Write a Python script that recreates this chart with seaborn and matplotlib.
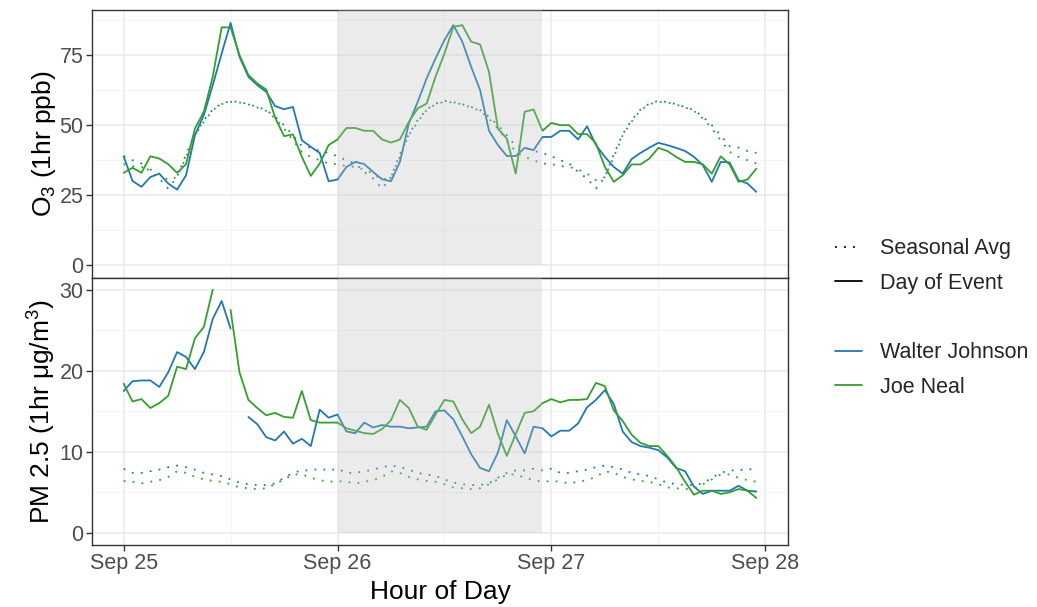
import matplotlib
matplotlib.use('Agg')
import matplotlib.pyplot as plt
import matplotlib.dates as mdates
from matplotlib.lines import Line2D
import seaborn as sns
import numpy as np
import pandas as pd

# hourly O3 (ppb), Sep 25 00:00 .. Sep 27 23:00
o3_walter = [38.9, 30.1, 28.0, 31.5, 32.7, 29.2, 27.0, 32.1, 46.4, 53.6, 64.3, 75.6,
             86.5, 74.4, 67.3, 64.3, 61.9, 56.8, 55.7, 56.5, 44.6, 42.3, 40.1, 30.0,
             30.6, 35.1, 36.9, 36.1, 33.3, 30.7, 30.0, 36.9, 50.6, 58.3, 66.7, 73.8,
             80.4, 85.7, 79.8, 70.8, 62.5, 48.0, 42.9, 39.0, 39.0, 41.9, 41.1, 45.8,
             45.8, 48.0, 48.0, 44.9, 49.6, 42.9, 38.7, 35.1, 32.7, 37.9, 40.1, 42.0,
             43.7, 42.9, 41.9, 40.8, 38.7, 35.7, 29.8, 36.9, 36.7, 30.4, 29.2, 26.2]
o3_joe = [33.0, 34.8, 33.0, 38.9, 38.1, 36.1, 33.0, 36.1, 48.8, 54.8, 67.3, 84.9,
          84.9, 75.0, 67.9, 64.9, 62.7, 52.7, 46.1, 46.7, 38.7, 31.9, 36.3, 42.9,
          44.9, 49.0, 49.0, 48.0, 48.0, 44.9, 43.8, 44.9, 51.2, 56.0, 57.7, 67.3,
          75.6, 85.1, 85.7, 79.8, 78.8, 69.0, 48.8, 45.2, 32.7, 54.8, 55.6, 48.0,
          50.8, 50.0, 50.0, 46.8, 46.8, 43.5, 35.1, 29.8, 32.1, 36.0, 36.0, 38.1,
          41.9, 40.8, 38.7, 36.9, 36.9, 36.0, 32.7, 38.9, 36.0, 29.8, 30.6, 34.5]
# seasonal average by hour of day
o3_walter_avg = [38.9, 37.5, 36.3, 33.3, 31.0, 27.4, 31.5, 39.6, 46.8, 51.8, 55.6, 57.7,
                 58.7, 58.2, 57.5, 56.5, 55.4, 53.0, 50.0, 46.4, 42.5, 42.0, 40.8, 40.1]
o3_joe_avg = [36.1, 35.4, 35.1, 34.2, 32.7, 30.4, 31.5, 38.7, 46.4, 51.2, 55.4, 57.5,
              58.3, 58.1, 57.4, 56.3, 55.1, 52.4, 48.8, 44.6, 40.5, 38.7, 37.5, 36.3]

# hourly PM 2.5 (ug/m3)
pm_walter = [17.5, 18.7, 18.8, 18.8, 18.0, 19.8, 22.3, 21.7, 20.2, 22.3, 26.4, 28.6,
             25.2, np.nan, 14.3, 13.4, 11.8, 11.4, 12.5, 11.0, 11.6, 10.7, 15.2, 14.2,
             14.6, 12.5, 12.3, 13.6, 13.0, 13.3, 13.1, 13.1, 12.9, 13.0, 13.1, 15.0,
             15.1, 14.0, 11.9, 9.7, 8.0, 7.6, 9.9, 13.9, 11.9, 9.8, 13.1, 12.9,
             11.9, 12.6, 12.6, 13.5, 15.5, 16.4, 17.6, 15.9, 12.5, 11.2, 10.7, 10.5,
             10.2, 9.3, 8.0, 7.6, 5.7, 4.8, 5.2, 5.2, 5.2, 5.8, 5.2, 5.1]
pm_joe = [18.4, 16.2, 16.5, 15.4, 16.0, 16.9, 20.5, 20.2, 24.0, 25.4, 30.0, np.nan,
          27.5, 19.8, 16.4, 15.4, 14.5, 14.8, 14.3, 14.2, 17.5, 13.9, 13.6, 13.6,
          13.6, 12.9, 12.6, 12.3, 12.2, 12.8, 13.9, 16.4, 15.4, 13.1, 12.7, 14.6,
          16.4, 16.2, 14.0, 12.3, 13.1, 15.8, 12.2, 9.5, 12.2, 14.8, 15.0, 16.0,
          16.5, 16.1, 16.4, 16.4, 16.5, 18.5, 18.1, 15.1, 13.8, 12.1, 11.1, 10.7,
          10.7, 9.5, 8.1, 6.3, 4.7, 5.2, 5.2, 4.8, 5.0, 5.4, 5.2, 4.3]
pm_walter_avg = [7.9, 7.4, 7.4, 7.6, 7.8, 8.1, 8.3, 8.1, 7.8, 7.4, 7.2, 7.0,
                 6.6, 6.2, 6.0, 5.9, 5.9, 6.1, 6.8, 7.4, 7.7, 7.7, 7.9, 7.7]
pm_joe_avg = [6.4, 6.3, 6.1, 6.3, 6.5, 6.9, 7.6, 7.4, 6.9, 6.6, 6.4, 6.3,
              6.0, 5.6, 5.5, 5.4, 5.5, 6.0, 6.6, 7.2, 7.2, 6.8, 6.5, 6.3]

sites = ['Walter Johnson', 'Joe Neal']
site_colors = {'Walter Johnson': '#1F78B4', 'Joe Neal': '#33A02C'}
times = pd.date_range('2023-09-25 00:00', periods=72, freq='h')
event_start = pd.Timestamp('2023-09-26 00:00')
event_end = pd.Timestamp('2023-09-26 23:00')


def make_frame(event_vals, avg_vals):
    parts = []
    for site in sites:
        for kind, vals in [('Day of Event', event_vals[site]),
                           ('Seasonal Avg', np.tile(avg_vals[site], 3))]:
            v = np.asarray(vals, dtype=float)
            seg = np.cumsum(np.isnan(v))  # break lines at missing hours
            d = pd.DataFrame({'time': times, 'value': v, 'site': site, 'kind': kind,
                              'seg': [f'{site}-{kind}-{s}' for s in seg]})
            parts.append(d.dropna())
    return pd.concat(parts, ignore_index=True)


o3_df = make_frame({'Walter Johnson': o3_walter, 'Joe Neal': o3_joe},
                   {'Walter Johnson': o3_walter_avg, 'Joe Neal': o3_joe_avg})
pm_df = make_frame({'Walter Johnson': pm_walter, 'Joe Neal': pm_joe},
                   {'Walter Johnson': pm_walter_avg, 'Joe Neal': pm_joe_avg})

sns.set_theme(style='white')
plt.rcParams['font.family'] = ['Liberation Sans', 'DejaVu Sans']
plt.rcParams['mathtext.fontset'] = 'custom'
plt.rcParams['mathtext.rm'] = 'Liberation Sans'
plt.rcParams['mathtext.default'] = 'regular'

fig, axes = plt.subplots(2, 1, figsize=(10.37, 6.07), dpi=100, sharex=True)
fig.subplots_adjust(left=92 / 1037, right=788 / 1037, top=1 - 10 / 607,
                    bottom=1 - 545 / 607, hspace=0)

dot = (1, 4)
panels = [(axes[0], o3_df, (-4.35, 91.1), [0, 25, 50, 75], [12.5, 37.5, 62.5, 87.5],
           'O$_3$ (1hr ppb)'),
          (axes[1], pm_df, (-1.5, 31.5), [0, 10, 20, 30], [5, 15, 25],
           'PM 2.5 (1hr μg/m$^3$)')]

for ax, df, ylim, yt, ym, ylab in panels:
    sns.lineplot(data=df, x='time', y='value', hue='site', style='kind', units='seg',
                 estimator=None, palette=site_colors,
                 dashes={'Day of Event': '', 'Seasonal Avg': dot},
                 linewidth=1.3, legend=False, ax=ax)
    for ln in ax.get_lines():
        ln.set_dash_capstyle('butt')
    ax.set_ylim(*ylim)
    ax.set_yticks(yt)
    ax.set_yticks(ym, minor=True)
    ax.fill_between([event_start, event_end], 0, ylim[1], color='#BEBEBE', alpha=0.3,
                    linewidth=0, zorder=5)
    ax.grid(True, which='major', color='#EBEBEB', linewidth=1.1)
    ax.grid(True, which='minor', color='#F2F2F2', linewidth=0.6)
    ax.set_axisbelow(True)
    for sp in ax.spines.values():
        sp.set_color('#333333')
        sp.set_linewidth(1.0)
    ax.tick_params(axis='both', which='major', direction='out', length=4, width=1,
                   color='#333333', labelsize=15.5, labelcolor='#4D4D4D', pad=2,
                   left=True, bottom=True)
    ax.tick_params(which='minor', length=0)
    ax.set_ylabel(ylab, fontsize=19, color='black', labelpad=1)
    ax.set_xlabel('')

axes[0].tick_params(axis='x', which='both', bottom=False, labelbottom=False)
axes[1].set_xlim(times[0] - pd.Timedelta(hours=3.55), times[-1] + pd.Timedelta(hours=3.55))
axes[1].xaxis.set_major_locator(mdates.DayLocator())
axes[1].xaxis.set_minor_locator(mdates.HourLocator(byhour=[12]))
axes[1].xaxis.set_major_formatter(mdates.DateFormatter('%b %d'))
axes[1].set_xlabel('Hour of Day', fontsize=19, color='black')
fig.align_ylabels(axes)

handles = [Line2D([], [], color='black', linestyle=(0, dot), linewidth=1.3,
                  dash_capstyle='butt'),
           Line2D([], [], color='black', linewidth=1.3),
           Line2D([], [], alpha=0),
           Line2D([], [], color=site_colors['Walter Johnson'], linewidth=1.3),
           Line2D([], [], color=site_colors['Joe Neal'], linewidth=1.3)]
labels = ['Seasonal Avg', 'Day of Event', ' ', 'Walter Johnson', 'Joe Neal']
fig.legend(handles, labels, loc='center left', bbox_to_anchor=(835 / 1037, 1 - 318 / 607),
           frameon=False, fontsize=15.5, handlelength=1.25, handletextpad=0.85,
           borderpad=0, borderaxespad=0, labelspacing=0.63)

fig.savefig('out.png', dpi=100)
